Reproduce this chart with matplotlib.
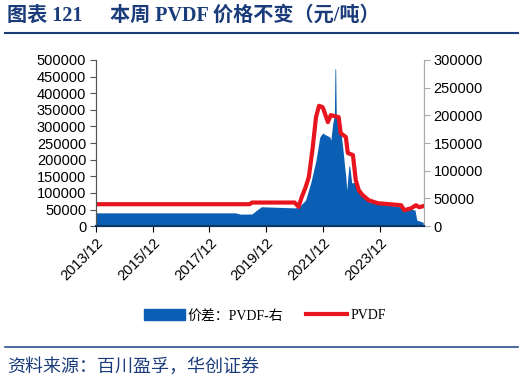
import matplotlib
matplotlib.use("Agg")
import matplotlib.pyplot as plt
import matplotlib.dates as mdates
from matplotlib.patches import Patch
from matplotlib.lines import Line2D
from matplotlib.ticker import MultipleLocator, FuncFormatter
import pandas as pd

# PVDF price (left axis), yuan/t
pvdf_dates = ['2013-12-01', '2019-05-01', '2019-06-01', '2020-12-01', '2021-01-20', '2021-03-01',
              '2021-04-20', '2021-06-01', '2021-07-20', '2021-09-01', '2021-10-10', '2021-11-25',
              '2021-12-10', '2022-02-01', '2022-03-10', '2022-06-20', '2022-07-15', '2022-09-20',
              '2022-10-15', '2022-12-20', '2023-01-25', '2023-03-05', '2023-04-25', '2023-07-10',
              '2023-11-05', '2024-08-30', '2024-10-10', '2025-01-10', '2025-03-10', '2025-04-20',
              '2025-06-10']
pvdf_price = [66000, 66000, 71000, 71000, 58000, 87000,
              117000, 148000, 235000, 328000, 362000, 358000,
              349000, 313000, 334000, 328000, 280000, 268000,
              220000, 214000, 139000, 108000, 93000, 78000,
              69000, 63000, 48000, 54000, 63000, 57000,
              60000]

# spread (right axis)
spread_dates = ['2013-12-01', '2018-11-01', '2019-01-01', '2019-06-01', '2019-08-01', '2019-10-01',
                '2020-12-01', '2021-01-20', '2021-04-20', '2021-06-25', '2021-09-01', '2021-10-20',
                '2021-11-25', '2022-01-01', '2022-02-25', '2022-03-10', '2022-04-05', '2022-04-25',
                '2022-05-03', '2022-05-12', '2022-05-20', '2022-06-05', '2022-07-15', '2022-08-10',
                '2022-09-05', '2022-09-20', '2022-10-01', '2022-10-30', '2022-11-10', '2022-12-05',
                '2023-02-05', '2023-03-05', '2023-05-05', '2023-07-25', '2024-01-01', '2024-09-10',
                '2025-02-25', '2025-03-20', '2025-06-10']
spread = [24000, 24000, 21700, 22000, 29000, 35000,
          33000, 34000, 47000, 78000, 119000, 161000,
          168000, 165000, 161000, 155000, 186000, 200000,
          285000, 283000, 197000, 195000, 173000, 143000,
          107000, 88000, 65000, 110000, 107000, 78000,
          80000, 70000, 52000, 43000, 41000, 34000,
          29000, 11000, 7000]

xticks = ['2013-12-01', '2015-12-01', '2017-12-01', '2019-12-01', '2021-12-01', '2023-12-01']

navy = '#1b3c7a'
blue = '#0a5fb4'
red = '#e8141e'

fig = plt.figure(figsize=(5.24, 3.82), dpi=100)
ax = fig.add_axes([0.183, 0.408, 0.626, 0.435])
ax2 = ax.twinx()

sd = pd.to_datetime(spread_dates)
pd_ = pd.to_datetime(pvdf_dates)
ax2.fill_between(sd, 0, spread, color=blue, linewidth=0)
ax.plot(pd_, pvdf_price, color=red, linewidth=3)

ax.set_zorder(ax2.get_zorder() + 1)
ax.patch.set_visible(False)

ax.set_xlim(pd.Timestamp('2013-12-01'), pd.Timestamp('2025-06-20'))
ax.set_ylim(0, 500000)
ax2.set_ylim(0, 300000)
ax.yaxis.set_major_locator(MultipleLocator(50000))
ax2.yaxis.set_major_locator(MultipleLocator(50000))
fmt = FuncFormatter(lambda v, p: '%d' % v)
ax.yaxis.set_major_formatter(fmt)
ax2.yaxis.set_major_formatter(fmt)

ax.set_xticks(pd.to_datetime(xticks))
ax.xaxis.set_major_formatter(mdates.DateFormatter('%Y/%m'))
for lab in ax.get_xticklabels():
    lab.set_rotation(45)
    lab.set_ha('right')
    lab.set_rotation_mode('anchor')

for a in (ax, ax2):
    a.tick_params(labelsize=10.5, colors='black', length=4, width=0.8, pad=3)
    for lab in a.get_xticklabels() + a.get_yticklabels():
        lab.set_fontfamily('Liberation Sans')
    a.spines['top'].set_visible(False)
    a.spines['left'].set_color('#555555')
    a.spines['right'].set_color('#aaaaaa')
    a.spines['bottom'].set_color('#0b3563')
    a.spines['bottom'].set_linewidth(1.5)
ax.tick_params(axis='y', colors='#555555', labelcolor='black')
ax2.tick_params(axis='y', colors='#aaaaaa', labelcolor='black')
ax.grid(False)

# legend
handles = [Patch(facecolor=blue, edgecolor=blue), Line2D([0], [0], color=red, linewidth=3)]
fig.legend(handles, ['价差：PVDF-右', 'PVDF'], loc='center', bbox_to_anchor=(0.505, 0.173),
           ncol=2, frameon=False, handlelength=3, handleheight=0.8, columnspacing=1.6,
           handletextpad=0.2, prop={'family': ['Liberation Serif', 'Noto Sans CJK SC'], 'size': 10})

# title and source
title_font = dict(color=navy, fontsize=14.5, fontweight='bold',
                  family=['Liberation Serif', 'Noto Sans CJK SC'], va='center', ha='left')
fig.text(7 / 524, 1 - 16 / 382, '图表 121', **title_font)
fig.text(110 / 524, 1 - 16 / 382, '本周 PVDF 价格不变（元/吨）', **title_font)
fig.add_artist(Line2D([0.01, 0.988], [1 - 33 / 382] * 2, color=navy, linewidth=1.5))
fig.add_artist(Line2D([0.01, 0.988], [1 - 347 / 382] * 2, color='#2a4f8a', linewidth=1.2))
fig.text(0.013, 1 - 367 / 382, '资料来源：百川盈孚，华创证券', color=navy, fontsize=13,
         family=['Noto Sans CJK SC'], style='italic', va='center', ha='left')

fig.savefig('out.png', dpi=100)
